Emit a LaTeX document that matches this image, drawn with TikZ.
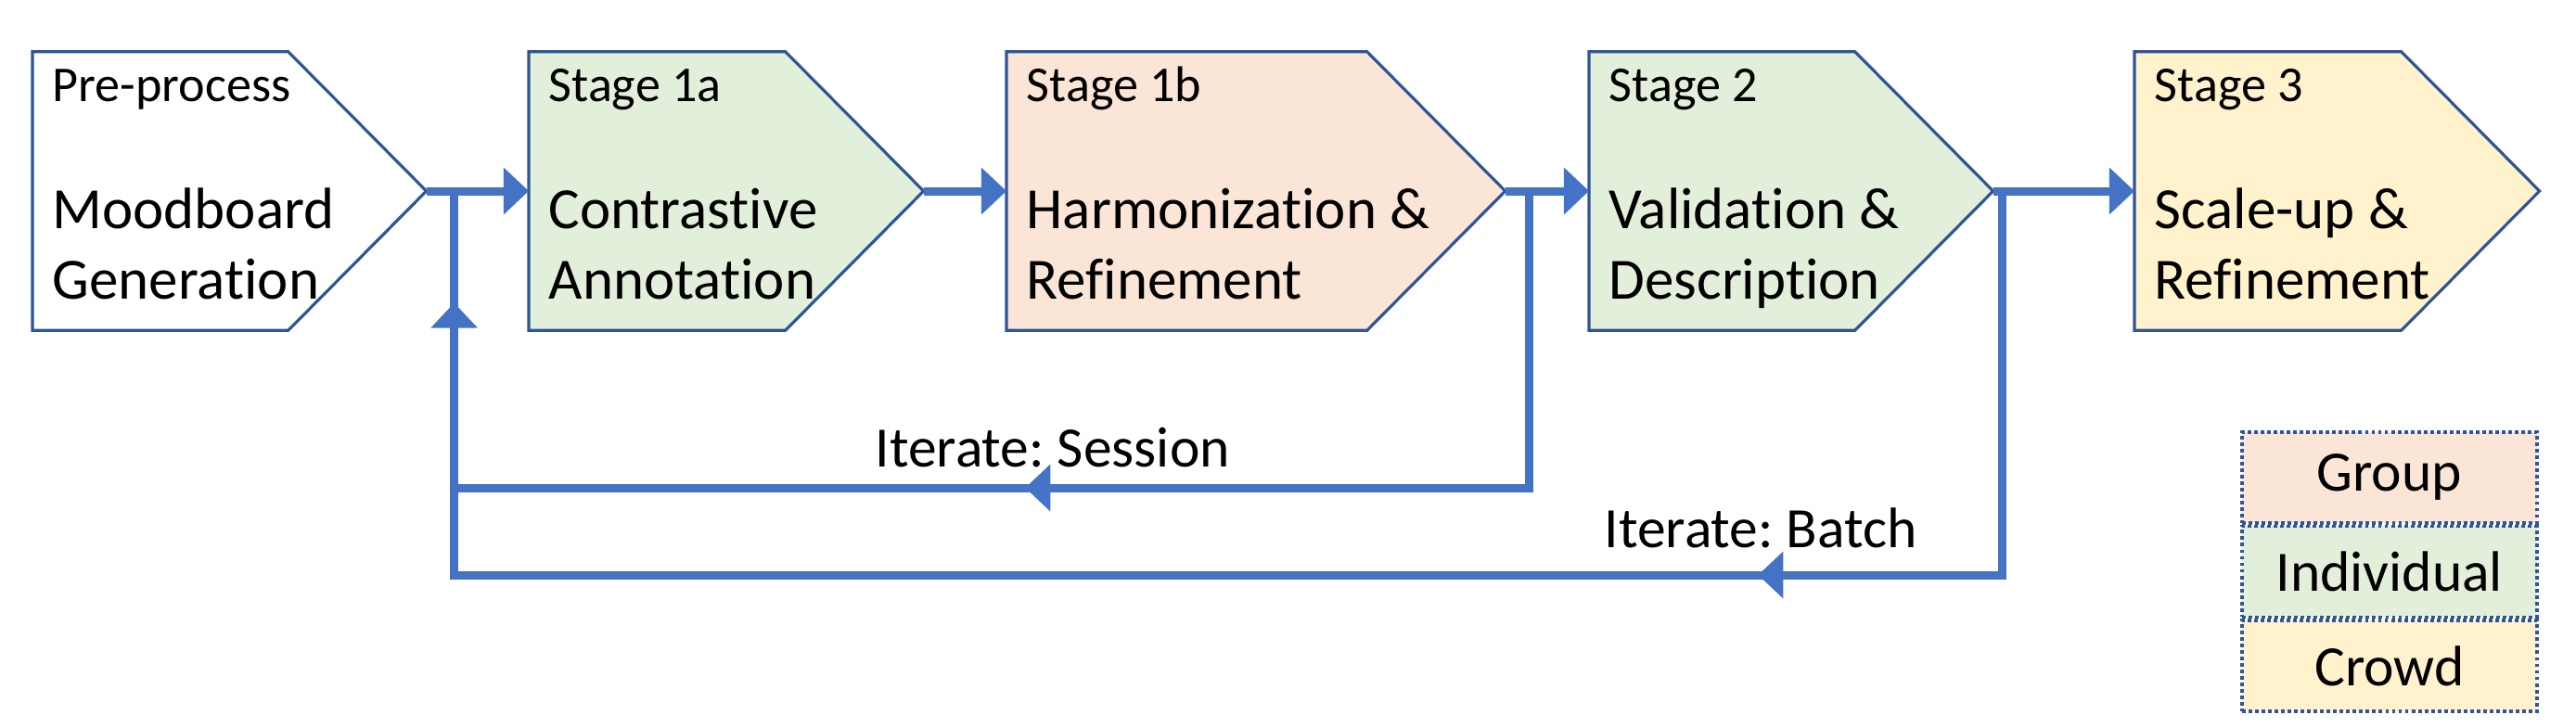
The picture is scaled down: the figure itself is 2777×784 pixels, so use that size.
\documentclass[tikz,border=0pt]{standalone}
\usepackage{fontspec}
\setmainfont{Carlito}[Ligatures=NoCommon]
\frenchspacing
\usetikzlibrary{positioning,calc,arrows.meta,decorations.markings}

\definecolor{boxblue}{HTML}{2F5597}
\definecolor{flowblue}{HTML}{4472C4}
\definecolor{indivfill}{HTML}{E2EFDA}
\definecolor{groupfill}{HTML}{FBE5D6}
\definecolor{crowdfill}{HTML}{FFF2CC}

\tikzset{
  looptip/.tip={Triangle[length=7.7pt,width=14pt]},
  stagebox/.style={rectangle,minimum height=2.99cm,inner sep=0pt,anchor=west},
  stageshape/.style={draw=boxblue,line width=0.9pt,line join=miter},
  stagetag/.style={anchor=base west,inner sep=0pt,font=\fontsize{15.4}{18}\selectfont},
  stagename/.style={anchor=base west,inner sep=0pt,align=left,font=\fontsize{17.9}{21.6}\selectfont},
  flow/.style={draw=flowblue,line width=2.56pt,-looptip},
  backloop/.style={draw=flowblue,line width=2.56pt,line join=miter,postaction={decorate}},
  looplabel/.style={anchor=base west,inner sep=0pt,font=\fontsize{17.5}{21}\selectfont},
  legendcell/.style={draw=boxblue,line width=1pt,dash pattern=on 1.1pt off 0.9pt,
    minimum width=3.18cm,minimum height=0.98cm,inner sep=0pt,font=\fontsize{17.5}{21}\selectfont}
}

\begin{document}
\begin{tikzpicture}[x=0.01cm,y=-0.01cm]
  \useasboundingbox (0,0) rectangle (2777,784);
  % stages (pentagon arrows, notch of 149 units)
  \foreach \nm/\col/\xl/\bw in {pre/white/35/4.23cm, s1a/indivfill/570/4.24cm,
      s1b/groupfill/1085/5.36cm, s2/indivfill/1713/4.34cm, s3/crowdfill/2301/4.35cm}{
    \node[stagebox,minimum width=\bw] (\nm) at (\xl,206) {};
    \filldraw[stageshape,fill=\col] (\nm.north west) -- ($(\nm.north east)+(-149,0)$) -- (\nm.east)
      -- ($(\nm.south east)+(-149,0)$) -- (\nm.south west) -- cycle;
  }
  \foreach \nm/\tag/\body in {pre/Pre-process/{Moodboard\\Generation},
      s1a/Stage 1a/{Contrastive\\Annotation},
      s1b/Stage 1b/{Harmonization \&\\Refinement},
      s2/Stage 2/{Validation \&\\Description},
      s3/Stage 3/{Scale-up \&\\Refinement}}{
    \node[stagetag] at ($(\nm.north west)+(21,54)$) {\tag};
    \node[stagename] at ($(\nm.north west)+(21,267)$) {\body};
  }
  % main flow
  \draw[flow] (pre.east) -- (s1a.west);
  \draw[flow] (s1a.east) -- (s1b.west);
  \draw[flow] (s1b.east) -- (s2.west);
  \draw[flow] (s2.east) -- (s3.west);
  % feedback loops
  \coordinate (jl) at ($(pre.east)+(30,0)$);
  \coordinate (js) at ($(s1b.east)+(26,0)$);
  \coordinate (jb) at ($(s2.east)+(10,0)$);
  \draw[backloop,decoration={markings,
      mark=at position 8.63cm with {\arrow{looptip}}}] (js) -- ++(0,320) -| (jl);
  \draw[backloop,decoration={markings,
      mark=at position 6.77cm with {\arrow{looptip}},
      mark=at position 23.75cm with {\arrow{looptip}}}] (jb) -- ++(0,414) -| (jl);
  \node[looplabel] (sess) at (943,503) {Iterate: Session};
  \node[looplabel] (batch) at (1729,590) {Iterate: Batch};
  % legend
  \node[legendcell,fill=groupfill,anchor=north west] (lgroup) at (2415,464) {Group};
  \node[legendcell,fill=indivfill,below=0pt of lgroup] (lindiv) {Individual};
  \node[legendcell,fill=crowdfill,below=0pt of lindiv] (lcrowd) {Crowd};
\end{tikzpicture}
\end{document}
